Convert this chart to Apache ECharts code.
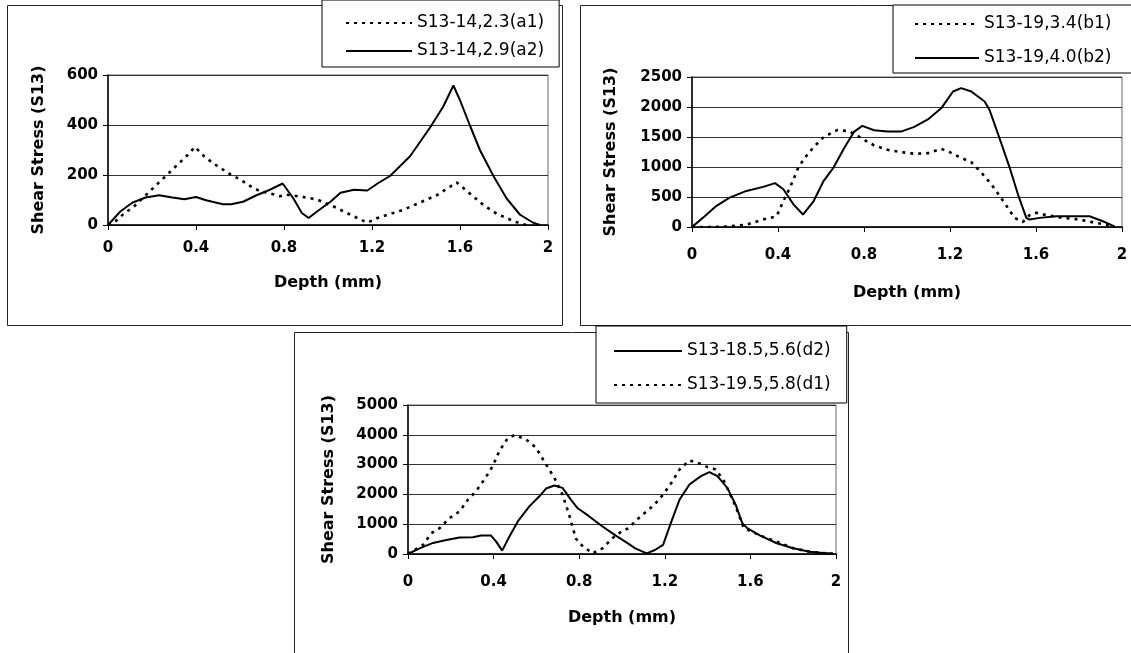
<!DOCTYPE html>
<html>
<head>
<meta charset="utf-8">
<script src="https://cdn.jsdelivr.net/npm/echarts@6/dist/echarts.min.js"></script>
<style>
html,body{margin:0;padding:0;background:#fff;}
#chart{width:1131px;height:653px;}
</style>
</head>
<body>
<div id="chart"></div>
<script>
// ---- Data (Depth in mm, Shear Stress S13) ----
const depthTicks = [0, 0.4, 0.8, 1.2, 1.6, 2];

const nameA1 = 'S13-14,2.3(a1)';
const xA1 = [0, 0.034, 0.072, 0.118, 0.156, 0.24, 0.278, 0.324, 0.362, 0.395, 0.438, 0.476, 0.522, 0.56, 0.599, 0.644, 0.69, 0.728, 0.782, 0.812, 0.888, 0.95, 1.026, 1.102, 1.179, 1.225, 1.343, 1.494, 1.585, 1.646, 1.706, 1.767, 1.827, 1.873, 1.903];
const yA1 = [0, 15, 45, 74, 106, 177, 209, 248, 280, 312, 274, 248, 222, 200, 183, 157, 135, 129, 115, 121, 112, 102, 74, 41, 9, 28, 61, 119, 170, 125, 80, 45, 22, 6, 0];

const nameA2 = 'S13-14,2.9(a2)';
const xA2 = [0, 0.056, 0.11, 0.171, 0.232, 0.293, 0.347, 0.40, 0.446, 0.522, 0.56, 0.614, 0.675, 0.736, 0.794, 0.843, 0.881, 0.912, 0.95, 1.011, 1.057, 1.118, 1.179, 1.225, 1.282, 1.373, 1.464, 1.524, 1.570, 1.600, 1.646, 1.691, 1.752, 1.812, 1.873, 1.933, 1.964];
const yA2 = [0, 54, 89, 110, 119, 110, 103, 112, 99, 83, 83, 93, 119, 141, 166, 106, 48, 28, 54, 93, 129, 141, 138, 166, 196, 275, 390, 474, 558, 499, 396, 299, 196, 106, 41, 9, 0];

const nameB1 = 'S13-19,3.4(b1)';
const xB1 = [0, 0.097, 0.175, 0.253, 0.331, 0.394, 0.425, 0.456, 0.495, 0.527, 0.566, 0.6125, 0.675, 0.722, 0.753, 0.792, 0.847, 0.909, 0.972, 1.034, 1.097, 1.159, 1.198, 1.245, 1.299, 1.345, 1.392, 1.431, 1.469, 1.5, 1.539, 1.57, 1.601, 1.648, 1.725, 1.803, 1.88, 1.942, 1.965];
const yB1 = [0, 0, 11, 39, 124, 180, 433, 658, 995, 1163, 1332, 1500, 1615, 1600, 1557, 1472, 1360, 1287, 1248, 1220, 1231, 1304, 1248, 1163, 1079, 910, 714, 517, 320, 152, 84, 197, 236, 197, 152, 124, 67, 28, 0];

const nameB2 = 'S13-19,4.0(b2)';
const xB2 = [0, 0.05, 0.1125, 0.175, 0.253, 0.331, 0.386, 0.425, 0.472, 0.516, 0.566, 0.6125, 0.659, 0.706, 0.753, 0.792, 0.847, 0.909, 0.972, 1.034, 1.097, 1.159, 1.214, 1.252, 1.299, 1.361, 1.384, 1.431, 1.477, 1.516, 1.555, 1.57, 1.617, 1.694, 1.772, 1.849, 1.911, 1.965];
const yB2 = [0, 152, 348, 489, 601, 669, 731, 629, 377, 208, 433, 770, 995, 1304, 1585, 1686, 1613, 1590, 1590, 1669, 1793, 1978, 2259, 2315, 2259, 2091, 1950, 1472, 995, 545, 152, 124, 152, 180, 180, 180, 96, 11];

const nameD2 = 'S13-18.5,5.6(d2)';
const xD2 = [0, 0.054, 0.117, 0.179, 0.241, 0.303, 0.342, 0.388, 0.412, 0.44, 0.474, 0.513, 0.567, 0.614, 0.645, 0.684, 0.722, 0.761, 0.792, 0.847, 0.909, 0.971, 1.033, 1.062, 1.115, 1.154, 1.192, 1.231, 1.269, 1.315, 1.369, 1.408, 1.446, 1.492, 1.531, 1.562, 1.585, 1.646, 1.723, 1.8, 1.877, 1.954, 1.985];
const yD2 = [0, 191, 372, 473, 552, 563, 619, 619, 417, 113, 585, 1092, 1599, 1937, 2196, 2297, 2218, 1824, 1543, 1261, 923, 619, 330, 191, 23, 135, 304, 1092, 1824, 2331, 2612, 2747, 2612, 2218, 1655, 1036, 867, 619, 360, 191, 79, 23, 23];

const nameD1 = 'S13-19.5,5.8(d1)';
const xD1 = [0, 0.039, 0.07, 0.109, 0.148, 0.194, 0.241, 0.28, 0.318, 0.357, 0.396, 0.427, 0.466, 0.497, 0.551, 0.598, 0.645, 0.684, 0.722, 0.753, 0.784, 0.8, 0.831, 0.862, 0.909, 0.955, 1.002, 1.031, 1.069, 1.115, 1.154, 1.192, 1.231, 1.269, 1.315, 1.354, 1.4, 1.438, 1.477, 1.531, 1.569, 1.646, 1.723, 1.8, 1.877, 1.954, 1.985];
const yD1 = [0, 169, 304, 698, 867, 1205, 1430, 1824, 2106, 2500, 2950, 3457, 3885, 3986, 3851, 3569, 3006, 2556, 1993, 1317, 529, 360, 191, 23, 191, 529, 777, 867, 1149, 1430, 1678, 1993, 2387, 2838, 3141, 3063, 2916, 2838, 2443, 1599, 867, 619, 417, 191, 79, 23, 0];

const yMaxA = 600, yStepA = 200;
const yMaxB = 2500, yStepB = 500;
const yMaxD = 5000, yStepD = 1000;

// ---- helpers ----
const pairs = (xs, ys) => xs.map((x, i) => [x, ys[i]]);
const FONT = 'DejaVu Sans';

function xAxisCfg(gridIndex, labelMargin, nameGap) {
  return {
    type: 'value', gridIndex: gridIndex, min: 0, max: 2, interval: 0.4,
    name: 'Depth (mm)', nameLocation: 'middle', nameGap: nameGap,
    nameTextStyle: {fontFamily: FONT, fontWeight: 'bold', fontSize: 16, color: '#000'},
    axisLine: {show: true, onZero: false, lineStyle: {color: '#000', width: 1.5}},
    axisTick: {show: true, inside: false, length: 5, lineStyle: {color: '#000', width: 1}},
    axisLabel: {margin: labelMargin, fontFamily: FONT, fontWeight: 'bold', fontSize: 15, color: '#000',
      formatter: v => String(+v.toFixed(1))},
    splitLine: {show: false}
  };
}
function yAxisCfg(gridIndex, max, step, nameGap) {
  return {
    type: 'value', gridIndex: gridIndex, min: 0, max: max, interval: step,
    name: 'Shear Stress (S13)', nameLocation: 'middle', nameGap: nameGap,
    nameTextStyle: {fontFamily: FONT, fontWeight: 'bold', fontSize: 16, color: '#000'},
    axisLine: {show: true, onZero: false, lineStyle: {color: '#000', width: 1.5}},
    axisTick: {show: true, inside: false, length: 5, lineStyle: {color: '#000', width: 1}},
    axisLabel: {margin: 10, fontFamily: FONT, fontWeight: 'bold', fontSize: 15, color: '#000',
      formatter: v => String(v)},
    splitLine: {show: true, lineStyle: {color: '#333', width: 1}}
  };
}
function solid(name, xs, ys, idx) {
  return {type: 'line', name: name, xAxisIndex: idx, yAxisIndex: idx, data: pairs(xs, ys),
    symbol: 'none', smooth: false, lineStyle: {color: '#000', width: 2}, itemStyle: {color: '#000'}, z: 3};
}
function dashed(name, xs, ys, idx) {
  return {type: 'line', name: name, xAxisIndex: idx, yAxisIndex: idx, data: pairs(xs, ys),
    symbol: 'none', smooth: false, lineStyle: {color: '#000', width: 2.6, type: [3, 5]}, itemStyle: {color: '#000'}, z: 4};
}
function legendCfg(names, left, top, padding, gap, itemWidth) {
  return {
    data: names, orient: 'vertical', left: left, top: top, padding: padding,
    itemGap: gap, itemWidth: itemWidth, itemHeight: 14,
    itemStyle: {color: 'rgba(0,0,0,0)', borderWidth: 0, opacity: 0},
    lineStyle: {width: 2},
    borderColor: '#000', borderWidth: 1, borderRadius: 0, backgroundColor: '#fff',
    textStyle: {fontFamily: FONT, fontSize: 17, color: '#000', lineHeight: 18},
    selectedMode: false, z: 10
  };
}

const chart = echarts.init(document.getElementById('chart'), null, {renderer: 'canvas'});
chart.setOption({
  backgroundColor: '#fff',
  animation: false,
  graphic: [
    {type: 'rect', shape: {x: 7.5, y: 5.5, width: 555, height: 320}, style: {fill: 'none', stroke: '#222', lineWidth: 1}, z: 0},
    {type: 'rect', shape: {x: 580.5, y: 5.5, width: 600, height: 320}, style: {fill: 'none', stroke: '#222', lineWidth: 1}, z: 0},
    {type: 'rect', shape: {x: 294.5, y: 332.5, width: 554, height: 340}, style: {fill: 'none', stroke: '#222', lineWidth: 1}, z: 0}
  ],
  grid: [
    {left: 108, top: 75, width: 440, height: 150, show: true, borderColor: '#666', borderWidth: 1, containLabel: false},
    {left: 692, top: 77, width: 430, height: 150, show: true, borderColor: '#666', borderWidth: 1, containLabel: false},
    {left: 408, top: 405, width: 428, height: 149, show: true, borderColor: '#666', borderWidth: 1, containLabel: false}
  ],
  xAxis: [xAxisCfg(0, 16, 50), xAxisCfg(1, 21, 58), xAxisCfg(2, 21, 56)],
  yAxis: [yAxisCfg(0, yMaxA, yStepA, 61), yAxisCfg(1, yMaxB, yStepB, 73), yAxisCfg(2, yMaxD, yStepD, 71)],
  legend: [
    legendCfg([nameA1, nameA2], 322, 0, [14, 15, 7, 23], 10, 66),
    legendCfg([nameB1, nameB2], 893, 5, [10, 40, 6, 21], 16, 64),
    legendCfg([nameD2, nameD1], 596, 326, [16, 16, 9, 17], 16, 68)
  ],
  series: [
    dashed(nameA1, xA1, yA1, 0),
    solid(nameA2, xA2, yA2, 0),
    dashed(nameB1, xB1, yB1, 1),
    solid(nameB2, xB2, yB2, 1),
    solid(nameD2, xD2, yD2, 2),
    dashed(nameD1, xD1, yD1, 2)
  ]
});
</script>
</body>
</html>
